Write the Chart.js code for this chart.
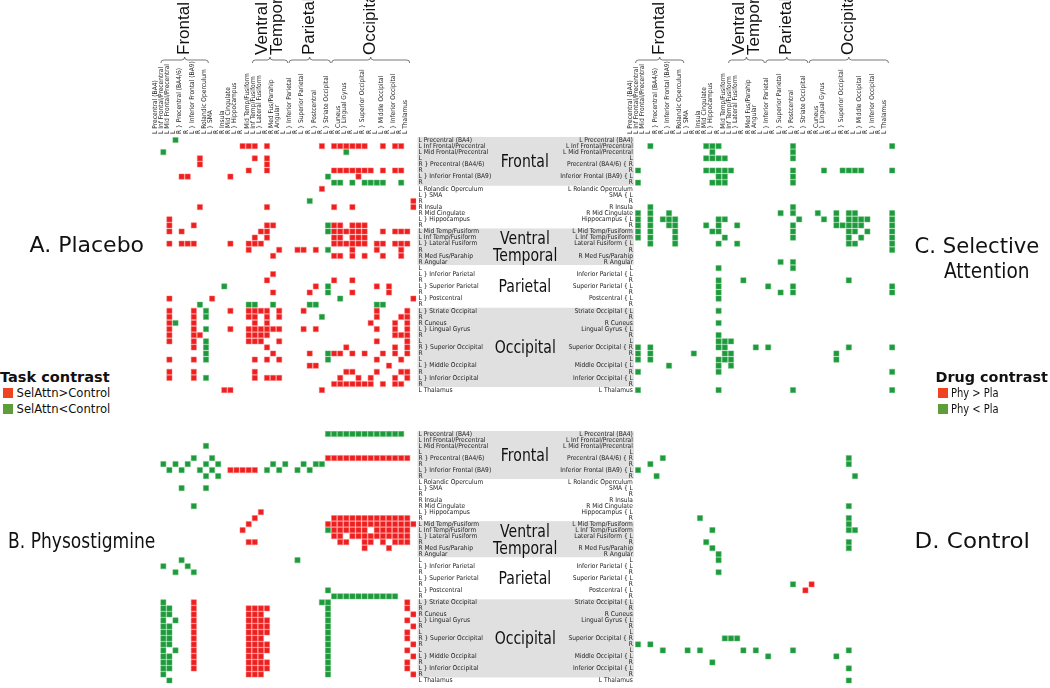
<!DOCTYPE html>
<html><head><meta charset="utf-8">
<script src="https://cdn.jsdelivr.net/npm/chart.js@4.4.1/dist/chart.umd.min.js"></script>
<style>
html,body{margin:0;padding:0;background:#fff}
body{width:1050px;height:688px;overflow:hidden;position:relative;font-family:"DejaVu Sans",sans-serif;color:#111}
canvas{position:absolute}
.t{position:absolute;white-space:nowrap;transform-origin:center center;line-height:1}
.sq{position:absolute;width:10px;height:10px}
</style></head><body>
<canvas id="cA" width="385" height="400" style="left:140px;top:0"></canvas>
<canvas id="cB" width="385" height="288" style="left:140px;top:400px"></canvas>
<canvas id="cC" width="525" height="400" style="left:525px;top:0"></canvas>
<canvas id="cD" width="525" height="288" style="left:525px;top:400px"></canvas>
<div id="overlay"></div>
<script>
// ---------- labels ----------
const HEMI = ["L","L","L","L","R","R","L","R","L","L","R","R","R","L","R","L","L","L","R","R","R","L","L","R","L","R","L","R","L","R","R","L","R","L","R","R","L","L","R","L","R","L"];
const NAMES = ["Precentral (BA4)","Inf Frontal/Precentral","Mid Frontal/Precentral","Precentral (BA4/6)","Precentral (BA4/6)","Precentral (BA4/6)","Inferior Frontal (BA9)","Inferior Frontal (BA9)","Rolandic Operculum","SMA","SMA","Insula","Mid Cingulate","Hippocampus","Hippocampus","Mid Temp/Fusiform","Inf Temp/Fusiform","Lateral Fusiform","Lateral Fusiform","Med Fus/Parahip","Angular","Inferior Parietal","Inferior Parietal","Inferior Parietal","Superior Parietal","Superior Parietal","Postcentral","Postcentral","Striate Occipital","Striate Occipital","Cuneus","Lingual Gyrus","Lingual Gyrus","Superior Occipital","Superior Occipital","Superior Occipital","Middle Occipital","Middle Occipital","Middle Occipital","Inferior Occipital","Inferior Occipital","Thalamus"];
const LOBES = [
  {lines:["Frontal"], from:0, to:7, band:true},
  {lines:["Ventral","Temporal"], from:15, to:20, band:true},
  {lines:["Parietal"], from:21, to:27, band:false},
  {lines:["Occipital"], from:28, to:40, band:true}
];
const PANEL_TITLES = ["A. Placebo","B. Physostigmine","C. Selective","Attention","D. Control"];
const TASK_LEGEND = ["Task contrast","SelAttn>Control","SelAttn<Control"];
const DRUG_LEGEND = ["Drug contrast","Phy > Pla","Phy < Pla"];

// ---------- cells: row index -> list of column indices ----------
const A_RED = {1:[13,14,15,17,26,28,29,30,31,32,33,36,38,39],3:[6,15,17],4:[6,17],5:[14,17,28,29,30,31,32,33,34,36,38,39],6:[3,4,11,32],8:[26],10:[41],11:[6,17,28,31,41],13:[1],14:[1,5,17,18,28,29,31,32,33],15:[1,3,16,17,28,29,30,31,32,33,36,38,39,40],16:[15,17,28,29,31,32,33],17:[1,3,4,5,11,14,15,16,28,29,30,31,32,33,35,36,38,39,40],18:[14,19,22,23,25,31,35,39],19:[18,28,29,31,33,36,39],22:[18],23:[17,28,31],24:[25,35,37],25:[18,24,31,37],26:[1,8,41],28:[1,5,11,14,15,16,17,19,23,35,40],29:[1,5,14,15,17,19,35,39,40],30:[1,5,15,17,34,38,40],31:[1,5,11,14,15,16,17,18,19,23,25,35,38,40],32:[1,5,6,14,15,16,17,38,39,40],33:[1,5,14,15,16,19,35,40],34:[5,17,30,38,40],35:[18,24,28,29,31,33,36,38,40],36:[1,5,15,17,19,35,39],37:[24,25,37],38:[1,5,15,30,31,35,39,40],39:[1,5,15,17,18,19,29,32,34,38,40],40:[28,29,30,31,32,33,34,36,38,39],41:[10,11,26]};
const A_GREEN = {0:[2],2:[0,30],6:[27],7:[28,29,31,33,34,35,36,39],10:[24],14:[27],15:[27],18:[27],24:[10,27],25:[27],26:[29],27:[6,14,15,18,24,25,35,36],28:[7],29:[7,26],30:[2],31:[7],33:[7],34:[7],35:[7,27],36:[7,27],39:[7]};

const B_RED = {4:[27,28,29,30,31,32,33,34,35,36,37,38,39,40],6:[11,12,13,14,15],13:[16],14:[15,28,29,30,31,32,33,34,35,36,37,38,39,40],15:[14,27,28,29,30,31,32,33,34,35,36,37,38,39,40,41],16:[13,28,29,30,31,32,33,35,36,37,38,39,40],17:[28,29,31,32,33,34,35,36,37,38,39,40],18:[14,15,29,30,33,34,36,38,39,40],19:[33,37],28:[5,40],29:[5,14,15,16,17,40],30:[5,14,15,16,41],31:[5,14,15,16,17,40],32:[5,14,15,16,17,41],33:[5,14,15,16,17,40],34:[5,14,15,16,40],35:[5,14,15,16,17,41],36:[5,14,15,16,17,40],37:[5,14,15,16,41],38:[5,14,15,16,17,40],39:[5,14,15,16,17,40],40:[14,15,16,41]};
const B_GREEN = {0:[27,28,29,30,31,32,33,34,35,36,37,38,39],2:[7],4:[5,8],5:[0,2,4,7,9,18,20,23,25,26],6:[1,3,6,8,17,19,22,24],7:[7,9],9:[3,7],12:[5],16:[27],21:[3,22],22:[0,4],23:[2,5],26:[27],27:[28,29,30,31,32,33,34,35,36,37,38],28:[0,26,27],29:[0,1,27],30:[0,1,27],31:[0,2,27],32:[0,1,27],33:[0,1,27],34:[0,1,27],35:[0,1,27],36:[0,2,27],37:[0,1,27],38:[0,1,27],39:[0,1,27],40:[0,27],41:[1]};

const C_RED = {};
const C_GREEN = {1:[2,11,12,13,25,41],2:[12,25],3:[11,12,13,14,25],5:[0,11,12,13,14,15,25,30,33,34,35,36,41],6:[13,14,25],7:[0,12,13,14,25],11:[2,25],12:[0,2,5,23,25,29,32,34,35,41],13:[0,2,4,5,6,13,14,26,30,32,34,35,36,37,41],14:[0,2,5,6,11,13,16,25,32,33,34,35,36,41],15:[0,2,6,12,13,25,34,35,37,41],16:[0,2,6,14,25,34,36,41],17:[2,6,13,16,34,35,41],18:[41],20:[23,25],21:[13,25],23:[13,17,34],24:[13,21,25,41],25:[13,23,25,41],26:[13],28:[13],30:[13],32:[13],33:[13,14,15],34:[0,2,13,14,19,21,34,41],35:[0,2,9,14,15,32],36:[0,2,13,14,15,32],37:[5,13,15],38:[0,13,41],41:[0,13,25,41]};

const D_RED = {25:[28],26:[27]};
const D_GREEN = {4:[4,34],5:[2,34],6:[0],7:[3,35],12:[34],14:[10,34],15:[34],16:[12,34,35],18:[11,34],19:[12,34],20:[13],21:[13],23:[13],25:[25],34:[14,15,16],35:[0,2],36:[4,8,10,17,19,25,34],37:[21,32],38:[12],39:[34],41:[34]};

// ---------- style ----------
const RED = "#ee1f1f", GREEN = "#1e9a3c";
const PITCH_L = 6.1, PITCH_R = 6.2, PITCH_Y = 6.1;
const LABEL_FONT = {family:"'Liberation Sans Narrow','DejaVu Sans Condensed','Liberation Sans',sans-serif", size:6.6};

function toPts(map){ const p=[]; for (const r in map) map[r].forEach(c=>p.push({x:c,y:+r})); return p; }
function groupInfo(i){ let s=i; while(s>0 && NAMES[s-1]===NAMES[i]) s--; let e=i; while(e<NAMES.length-1 && NAMES[e+1]===NAMES[i]) e++; return {s,e}; }
function labelText(i, side){
  const g = groupInfo(i);
  if (g.s===g.e) return HEMI[i]+" "+NAMES[i];
  const disp = g.s + Math.floor((g.e-g.s)/2);
  if (i!==disp) return HEMI[i];
  return side==="left" ? NAMES[i]+" { "+HEMI[i] : HEMI[i]+" } "+NAMES[i];
}
const IDX = NAMES.map((_,i)=>i);

const decoPlugin = {
  id:'deco',
  beforeDraw(chart, args, o){
    const {ctx, chartArea:ca, scales} = chart; const y = scales.y;
    ctx.save(); ctx.fillStyle = "#e0e0e0";
    LOBES.filter(l=>l.band).forEach(l=>{
      const y0=y.getPixelForValue(l.from-0.5), y1=y.getPixelForValue(l.to+0.5);
      if (o.side==="right") ctx.fillRect(ca.right+1, y0, chart.width-ca.right-1, y1-y0);
      else ctx.fillRect(0, y0, ca.left-1, y1-y0);
    });
    ctx.restore();
  },
  afterDraw(chart, args, o){
    if (!o.top) return;
    const {ctx, scales} = chart; const x = scales.x;
    ctx.save(); ctx.strokeStyle="#555"; ctx.lineWidth=0.8; ctx.fillStyle="#111";
    LOBES.forEach(l=>{
      const x0=x.getPixelForValue(l.from-0.4), x1=x.getPixelForValue(l.to+0.4), xm=(x0+x1)/2, yb=60, h=3;
      ctx.beginPath(); ctx.moveTo(x0,yb+h); ctx.quadraticCurveTo(x0,yb,x0+h,yb); ctx.lineTo(xm-h,yb);
      ctx.quadraticCurveTo(xm,yb,xm,yb-h); ctx.quadraticCurveTo(xm,yb,xm+h,yb); ctx.lineTo(x1-h,yb);
      ctx.quadraticCurveTo(x1,yb,x1,yb+h); ctx.stroke();
      ctx.font = "17px 'Liberation Sans', Arial, sans-serif"; ctx.textBaseline="middle"; ctx.textAlign="left";
      const n=l.lines.length;
      l.lines.forEach((t,k)=>{
        const cx = xm + (k-(n-1)/2)*15;
        ctx.save(); ctx.translate(cx, yb-5); ctx.rotate(-Math.PI/2); ctx.fillText(t,0,0); ctx.restore();
      });
    });
    ctx.restore();
  }
};

function makeChart(id, red, green, o){
  return new Chart(document.getElementById(id), {
    type:'scatter',
    data:{datasets:[
      {data:toPts(red), backgroundColor:RED, borderColor:"#ff7070", borderWidth:0.5, pointStyle:'rect', pointRadius:3.7},
      {data:toPts(green), backgroundColor:GREEN, borderColor:"#5abb70", borderWidth:0.5, pointStyle:'rect', pointRadius:3.7}
    ]},
    options:{
      responsive:false, animation:false, events:[], devicePixelRatio:1,
      layout:{padding:o.padding},
      plugins:{legend:{display:false}, tooltip:{enabled:false}, deco:{side:o.ySide, top:o.showX}},
      scales:{
        x:{type:'linear', position:'top', min:-0.5, max:41.5, display:o.showX,
           grid:{display:false, drawTicks:false}, border:{display:false},
           afterBuildTicks:s=>{ s.ticks = IDX.map(v=>({value:v})); },
           afterFit:s=>{ s.height=o.xH; s.paddingLeft=0; s.paddingRight=0; },
           ticks:{autoSkip:false, minRotation:90, maxRotation:90, padding:3, color:"#222", font:LABEL_FONT,
                  callback:v=>labelText(v,"top")}},
        y:{type:'linear', position:o.ySide, min:-0.5, max:41.5, reverse:true,
           grid:{display:false, drawTicks:false}, border:{display:false},
           afterBuildTicks:s=>{ s.ticks = IDX.map(v=>({value:v})); },
           afterFit:s=>{ s.width=o.yW; s.paddingTop=0; s.paddingBottom=0; },
           ticks:{autoSkip:false, padding:2, color:"#222", font:LABEL_FONT,
                  callback:v=>labelText(v,o.ySide)}}
      }
    },
    plugins:[decoPlugin]
  });
}
const WL = PITCH_L*42, WR = PITCH_R*42, H = PITCH_Y*42;
const LEFT_A = 163.3 - 140 - PITCH_L/2;      // chart area left inside canvas A/B
const LEFT_C = 638 - 525 - PITCH_R/2;        // chart area left inside canvas C/D
const TOP_T = 140 - PITCH_Y/2, TOP_B = 434 - 400 - PITCH_Y/2;
const chA = makeChart("cA", A_RED, A_GREEN, {ySide:"right", showX:true, xH:TOP_T, yW:385-LEFT_A-WL, padding:{left:LEFT_A,top:0,right:0,bottom:400-TOP_T-H}});
const chB = makeChart("cB", B_RED, B_GREEN, {ySide:"right", showX:false, xH:0, yW:385-LEFT_A-WL, padding:{left:LEFT_A,top:TOP_B,right:0,bottom:288-TOP_B-H}});
const chC = makeChart("cC", C_RED, C_GREEN, {ySide:"left", showX:true, xH:TOP_T, yW:LEFT_C, padding:{left:0,top:0,right:525-LEFT_C-WR,bottom:400-TOP_T-H}});
const chD = makeChart("cD", D_RED, D_GREEN, {ySide:"left", showX:false, xH:0, yW:LEFT_C, padding:{left:0,top:TOP_B,right:525-LEFT_C-WR,bottom:288-TOP_B-H}});

// ---------- overlay text ----------
const ov = document.getElementById("overlay");
function addText(txt, cx, cy, css, width){
  const d=document.createElement("div"); d.className="t"; d.textContent=txt;
  d.style.cssText += css; ov.appendChild(d);
  const w=d.offsetWidth, h=d.offsetHeight;
  const sx = width ? width/w : 0.78;
  d.style.transform = "scaleX("+sx+")";
  d.style.left=(cx-w/2)+"px"; d.style.top=(cy-h/2)+"px";
  return d;
}
[[chA,0],[chB,400]].forEach(([ch,off])=>{
  LOBES.forEach(l=>{
    const n=l.lines.length; const yc = ch.scales.y.getPixelForValue((l.from+l.to)/2)+off;
    l.lines.forEach((t,k)=>addText(t, 525, yc+(k-(n-1)/2)*17, "font-size:18px;"));
  });
});
const TITLE_CSS = "font-size:22px;";
addText(PANEL_TITLES[0], 87, 245, TITLE_CSS, 115);
addText(PANEL_TITLES[1], 81, 541, TITLE_CSS, 147);
addText(PANEL_TITLES[2], 977, 246, TITLE_CSS, 125);
addText(PANEL_TITLES[3], 987, 271, TITLE_CSS, 86);
addText(PANEL_TITLES[4], 972, 541, TITLE_CSS, 115);
addText(TASK_LEGEND[0], 55, 377, "font-size:14px;font-weight:bold;", 110);
addText(DRUG_LEGEND[0], 991, 377, "font-size:14px;font-weight:bold;", 112);
function legendItem(x, y, color, txt, width){
  const s=document.createElement("div"); s.className="sq"; s.style.left=x+"px"; s.style.top=(y-5)+"px"; s.style.background=color; ov.appendChild(s);
  addText(txt, x+13+width/2, y, "font-size:12px;", width);
}
legendItem(3, 393, "#ee4422", TASK_LEGEND[1], 94);
legendItem(3, 409, "#5e9e3a", TASK_LEGEND[2], 94);
legendItem(938, 393, "#ee4422", DRUG_LEGEND[1], 48);
legendItem(938, 409, "#5e9e3a", DRUG_LEGEND[2], 48);
</script>
</body></html>
